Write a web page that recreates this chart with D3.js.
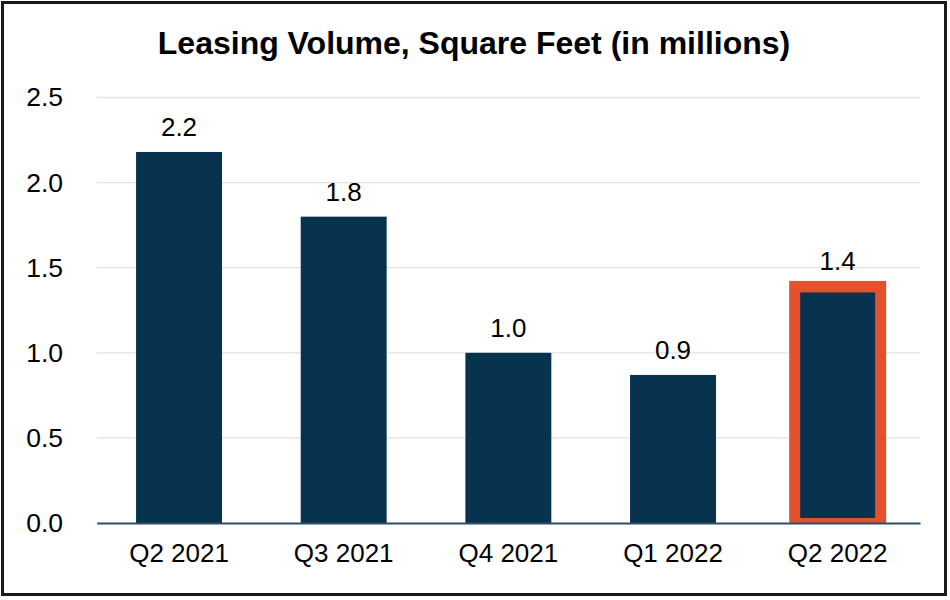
<!DOCTYPE html>
<html>
<head>
<meta charset="utf-8">
<script src="https://cdn.jsdelivr.net/npm/d3@7"></script>
<style>
  body { margin: 0; background: #fff; }
  text { font-family: "Liberation Sans", Arial, sans-serif; }
</style>
</head>
<body>
<div id="chart"></div>
<script>
// Chart data
var quarters = ["Q2 2021", "Q3 2021", "Q4 2021", "Q1 2022", "Q2 2022"];
var volumes = [2.18, 1.80, 1.00, 0.87, 1.39];
var yTicks = [0, 0.5, 1.0, 1.5, 2.0, 2.5];
var highlighted = ["Q2 2022"];

var W = 950, H = 600;
var margin = {top: 97.5, right: 30, bottom: 77, left: 96.7};

var data = quarters.map(function(q, i) { return {q: q, v: volumes[i]}; });

var svg = d3.select("#chart").append("svg")
    .attr("width", W)
    .attr("height", H);

// frame round the whole picture
svg.append("rect")
    .attr("x", 2.5).attr("y", 2.5)
    .attr("width", 943).attr("height", 592)
    .attr("fill", "#fff")
    .attr("stroke", "#1a1a1a")
    .attr("stroke-width", 3);

var x = d3.scaleBand()
    .domain(quarters)
    .range([margin.left, W - margin.right])
    .paddingInner(0.478)
    .paddingOuter(0.239);

var y = d3.scaleLinear()
    .domain([0, 2.5])
    .range([H - margin.bottom, margin.top]);

// Title
svg.append("text")
    .attr("x", 474)
    .attr("y", 54)
    .attr("text-anchor", "middle")
    .attr("font-size", 32)
    .attr("font-weight", "bold")
    .text("Leasing Volume, Square Feet (in millions)");

// gridlines
svg.append("g")
    .selectAll("line")
    .data(yTicks.filter(function(t) { return t > 0; }))
    .enter().append("line")
    .attr("x1", margin.left)
    .attr("x2", W - margin.right)
    .attr("y1", function(d) { return y(d); })
    .attr("y2", function(d) { return y(d); })
    .attr("stroke", "#e2e2e2")
    .attr("stroke-width", 1.3);

// y axis, labels only
var yAxis = svg.append("g")
    .attr("transform", "translate(" + 63 + ",0)")
    .call(d3.axisLeft(y).tickValues(yTicks).tickFormat(d3.format(".1f")).tickSize(0).tickPadding(0));
yAxis.select(".domain").remove();
yAxis.selectAll("text")
    .attr("font-size", 26.5)
    .attr("fill", "#000")
    .attr("font-family", "Liberation Sans, Arial, sans-serif");

// highlight frame for current quarter
var hl = data.filter(function(d) { return highlighted.indexOf(d.q) >= 0; });
svg.selectAll(".hl")
    .data(hl)
    .enter().append("rect")
    .attr("class", "hl")
    .attr("x", function(d) { return x(d.q) - 5.5; })
    .attr("y", function(d) { return y(d.v) - 5.5; })
    .attr("width", x.bandwidth() + 11)
    .attr("height", function(d) { return y(0) - y(d.v) + 5.5; })
    .attr("fill", "#e3512f");

// bars
svg.selectAll(".bar")
    .data(data)
    .enter().append("rect")
    .attr("class", "bar")
    .attr("x", function(d) { return highlighted.indexOf(d.q) >= 0 ? x(d.q) + 5.5 : x(d.q); })
    .attr("y", function(d) { return highlighted.indexOf(d.q) >= 0 ? y(d.v) + 6 : y(d.v); })
    .attr("width", function(d) { return highlighted.indexOf(d.q) >= 0 ? x.bandwidth() - 11 : x.bandwidth(); })
    .attr("height", function(d) {
        return highlighted.indexOf(d.q) >= 0 ? y(0) - y(d.v) - 11 : y(0) - y(d.v);
    })
    .attr("fill", "#08334f");

// value labels
svg.selectAll(".val")
    .data(data)
    .enter().append("text")
    .attr("class", "val")
    .attr("x", function(d) { return x(d.q) + x.bandwidth() / 2; })
    .attr("y", function(d) { return y(d.v) - 16; })
    .attr("text-anchor", "middle")
    .attr("font-size", 26)
    .text(function(d) { return d3.format(".1f")(d.v); });

// x axis
var xAxis = svg.append("g")
    .attr("transform", "translate(0," + y(0) + ")")
    .call(d3.axisBottom(x).tickSize(0).tickPadding(21));
xAxis.select(".domain")
    .attr("stroke", "#2b4f6b")
    .attr("stroke-width", 2);
xAxis.selectAll("text")
    .attr("font-size", 26)
    .attr("fill", "#000")
    .attr("font-family", "Liberation Sans, Arial, sans-serif");
</script>
</body>
</html>
